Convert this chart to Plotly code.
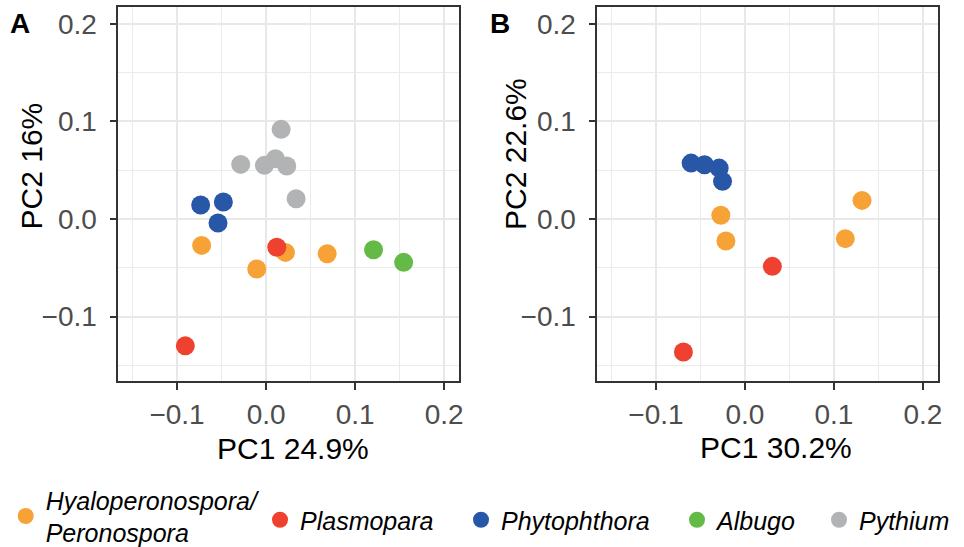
import plotly.graph_objects as go

W, H = 964, 547

groups = ["Hyaloperonospora/<br>Peronospora", "Plasmopara", "Phytophthora", "Albugo", "Pythium"]
colors = ["#F7A236", "#EE412F", "#2757A6", "#64BA47", "#B1B3B4"]

# Panel A (PC1 24.9%, PC2 16%)
a_x = {
    0: [-0.0724, -0.0105, 0.0217, 0.0686],
    1: [0.0120, -0.0907],
    2: [-0.0735, -0.0480, -0.0540],
    3: [0.1207, 0.1545],
    4: [0.0169, -0.0285, -0.0019, 0.0105, 0.0232, 0.0337],
}
a_y = {
    0: [-0.0270, -0.0512, -0.0342, -0.0355],
    1: [-0.0290, -0.1300],
    2: [0.0143, 0.0174, -0.0041],
    3: [-0.0314, -0.0444],
    4: [0.0919, 0.0560, 0.0550, 0.0618, 0.0543, 0.0208],
}
# Panel B (PC1 30.2%, PC2 22.6%)
b_x = {
    0: [-0.0271, -0.0214, 0.1316, 0.1128],
    1: [0.0308, -0.0692],
    2: [-0.0605, -0.0455, -0.0290, -0.0252],
}
b_y = {
    0: [0.0038, -0.0225, 0.0191, -0.0201],
    1: [-0.0485, -0.1362],
    2: [0.0573, 0.0556, 0.0522, 0.0386],
}

tickvals = [-0.1, 0.0, 0.1, 0.2]
ticktext = ["\u22120.1", "0.0", "0.1", "0.2"]
minorvals = [-0.15, -0.05, 0.05, 0.15]
axrange = [-0.166, 0.217]

FONT = "Liberation Sans, Arial, sans-serif"
MS = 19

fig = go.Figure()
legend_names = ["legend", "legend2", "legend3", "legend4", "legend5"]
for i, g in enumerate(groups):
    fig.add_trace(go.Scatter(
        x=a_x[i], y=a_y[i], mode="markers", name=g,
        marker=dict(color=colors[i], size=MS, line=dict(width=0)),
        xaxis="x", yaxis="y", legend=legend_names[i], showlegend=True))
for i in b_x:
    fig.add_trace(go.Scatter(
        x=b_x[i], y=b_y[i], mode="markers", name=groups[i],
        marker=dict(color=colors[i], size=MS, line=dict(width=0)),
        xaxis="x2", yaxis="y2", legend=legend_names[i], showlegend=False))

def px_x(p):
    return p / W

def px_y(p):
    return 1 - p / H

ydom = [px_y(381), px_y(7.3)]

def axis_common(domain, anchor):
    return dict(
        domain=domain, anchor=anchor, range=axrange,
        tickmode="array", tickvals=tickvals, ticktext=ticktext,
        showgrid=True, gridcolor="#E8E8E8", gridwidth=2,
        zeroline=False, showline=True, mirror=True,
        linecolor="#333333", linewidth=1.6,
        ticks="outside", ticklen=7, tickwidth=1.6, tickcolor="#333333",
        tickfont=dict(family=FONT, size=28, color="#4D4D4D"),
        minor=dict(tickmode="array", tickvals=minorvals, showgrid=True,
                   gridcolor="#EBEBEB", gridwidth=1.3, ticks=""),
        fixedrange=True, automargin=False,
    )

fig.update_layout(
    width=W, height=H,
    margin=dict(l=0, r=0, t=0, b=0, autoexpand=False),
    paper_bgcolor="white", plot_bgcolor="white",
    xaxis=axis_common([px_x(118.3), px_x(459.3)], "y"),
    yaxis=axis_common(ydom, "x"),
    xaxis2=axis_common([px_x(597.3), px_x(938)], "y2"),
    yaxis2=axis_common(ydom, "x2"),
    font=dict(family=FONT, color="black"),
)
fig.update_xaxes(ticklabelstandoff=1)
fig.update_yaxes(ticklabelstandoff=7)

legend_dot_x = [25.7, 280, 481, 697, 839]
legend_dot_y = [516, 520, 520, 520, 520]
for i, ln in enumerate(legend_names):
    fig.update_layout(**{ln: dict(
        x=px_x(legend_dot_x[i] - 20), xanchor="left",
        y=px_y(legend_dot_y[i]), yanchor="middle",
        orientation="h", bgcolor="rgba(0,0,0,0)",
        font=dict(family=FONT, size=25, color="black", style="italic"),
        itemsizing="trace", borderwidth=0,
        tracegroupgap=0,
    )})

annos = [
    dict(text="<b>A</b>", x=px_x(8), y=px_y(24), xanchor="left", yanchor="middle", size=28),
    dict(text="<b>B</b>", x=px_x(487.5), y=px_y(23), xanchor="left", yanchor="middle", size=28),
    dict(text="PC1 24.9%", x=px_x(293), y=px_y(448), xanchor="center", yanchor="middle", size=30),
    dict(text="PC1 30.2%", x=px_x(776), y=px_y(447), xanchor="center", yanchor="middle", size=30),
    dict(text="PC2 16%", x=px_x(31), y=px_y(166.5), xanchor="center", yanchor="middle", size=30, angle=-90),
    dict(text="PC2 22.6%", x=px_x(515), y=px_y(154), xanchor="center", yanchor="middle", size=30, angle=-90),
]
for a in annos:
    fig.add_annotation(text=a["text"], x=a["x"], y=a["y"], xref="paper", yref="paper",
                       xanchor=a["xanchor"], yanchor=a["yanchor"], showarrow=False,
                       textangle=a.get("angle", 0),
                       font=dict(family=FONT, size=a["size"], color="black"))

fig.write_html("out.html")
